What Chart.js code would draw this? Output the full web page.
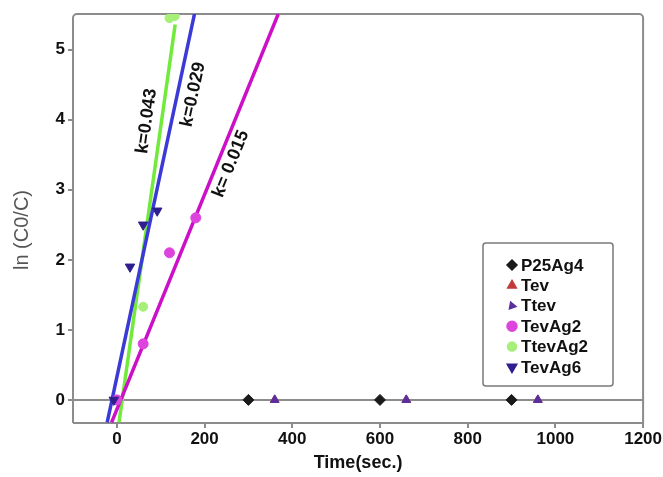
<!DOCTYPE html>
<html><head><meta charset="utf-8">
<script src="https://cdn.jsdelivr.net/npm/chart.js@4.4.1/dist/chart.umd.min.js"></script>
<style>html,body{margin:0;padding:0;background:#fff;}</style>
</head><body>
<canvas id="c" width="663" height="477"></canvas>
<script>
// ---- data ----
const xTicks = [0, 200, 400, 600, 800, 1000, 1200];
const yTicks = [0, 1, 2, 3, 4, 5];

const p25Ag4X = [300, 600, 900];
const p25Ag4Y = [0, 0, 0];
const tevX = [360, 660, 960];
const tevY = [0, 0, 0];
const ttevX = [360, 660, 960];
const ttevY = [0, 0, 0];
const tevAg2X = [0, 60, 120, 180];
const tevAg2Y = [0, 0.8, 2.1, 2.6];
const ttevAg2X = [0, 60, 120, 132];
const ttevAg2Y = [0, 1.33, 5.45, 5.48];
const tevAg6X = [-7, 30, 60, 92];
const tevAg6Y = [0, 1.9, 2.5, 2.7];

// fitted lines (end points)
const fitGreenX = [5, 133];
const fitGreenY = [-0.32, 5.36];
const fitBlueX = [-22, 177];
const fitBlueY = [-0.32, 5.51];
const fitMagentaX = [-12, 368];
const fitMagentaY = [-0.32, 5.51];

const fitLabels = ['k=0.043', 'k=0.029', 'k= 0.015'];
const fitLabelX = [68, 174, 260];
const fitLabelY = [3.98, 4.36, 3.37];

const yTitle = 'ln (C0/C)';
const xTitle = 'Time(sec.)';

const zip = (xs, ys) => xs.map((x, i) => ({x: x, y: ys[i]}));

const FONT = "'Liberation Sans', Arial, sans-serif";

function pts(label, xs, ys, color, style, radius, rotation, order) {
  return {label, data: zip(xs, ys), showLine: false, pointStyle: style,
    pointRadius: radius, pointRotation: rotation || 0, backgroundColor: color,
    borderColor: color, borderWidth: 1, order: order === undefined ? 1 : order, isPoint: true};
}
function fit(xs, ys, color) {
  return {label: '', data: zip(xs, ys), showLine: true, borderColor: color,
    borderWidth: 3.5, pointRadius: 0, fill: false, order: 10, isFit: true};
}

const datasets = [
  fit(fitMagentaX, fitMagentaY, '#cc10c8'),
  fit(fitBlueX, fitBlueY, '#3c3ad6'),
  fit(fitGreenX, fitGreenY, '#72ea3c'),
  pts('P25Ag4', p25Ag4X, p25Ag4Y, '#1a1a1a', 'rectRot', 5.5),
  pts('Tev', tevX, tevY, '#c23a3a', 'triangle', 5, 0, 5),
  pts('Ttev', ttevX, ttevY, '#5b2f9e', 'triangle', 5, 0, 2),
  pts('TevAg2', tevAg2X, tevAg2Y, '#dd44dd', 'circle', 5, 0, 3),
  pts('TtevAg2', ttevAg2X, ttevAg2Y, '#a6f07a', 'circle', 4.5, 0, 4),
  pts('TevAg6', tevAg6X, tevAg6Y, '#2e1f8f', 'triangle', 5.5, 180, 0)
];

const framePlugin = {
  id: 'frame',
  beforeDatasetsDraw(chart) {
    const {ctx, chartArea: a} = chart;
    ctx.save();
    ctx.strokeStyle = '#8c8c8c';
    ctx.lineWidth = 2;
    const r = 4;
    ctx.beginPath();
    ctx.moveTo(a.left, a.bottom);
    ctx.lineTo(a.left, a.top + r);
    ctx.arcTo(a.left, a.top, a.left + r, a.top, r);
    ctx.lineTo(a.right - r, a.top);
    ctx.arcTo(a.right, a.top, a.right, a.top + r, r);
    ctx.lineTo(a.right, a.bottom);
    ctx.lineTo(a.left, a.bottom);
    ctx.stroke();
    ctx.restore();
  }
};

const labelPlugin = {
  id: 'fitlabels',
  afterDatasetsDraw(chart) {
    const {ctx, scales: {x, y}} = chart;
    const fits = [datasets[2], datasets[1], datasets[0]];
    ctx.save();
    ctx.fillStyle = '#111';
    ctx.font = 'bold 18px ' + FONT;
    ctx.textAlign = 'center';
    ctx.textBaseline = 'middle';
    fitLabels.forEach((t, i) => {
      const d = fits[i].data;
      const px0 = x.getPixelForValue(d[0].x), py0 = y.getPixelForValue(d[0].y);
      const px1 = x.getPixelForValue(d[1].x), py1 = y.getPixelForValue(d[1].y);
      const ang = Math.atan2(py1 - py0, px1 - px0);
      ctx.save();
      ctx.translate(x.getPixelForValue(fitLabelX[i]), y.getPixelForValue(fitLabelY[i]));
      ctx.rotate(ang);
      ctx.fillText(t, 0, 0);
      ctx.restore();
    });
    // y axis title
    ctx.save();
    ctx.fillStyle = '#555';
    ctx.font = '20px ' + FONT;
    ctx.translate(22, 230);
    ctx.rotate(-Math.PI / 2);
    ctx.fillText(yTitle, 0, 0);
    ctx.restore();
    ctx.restore();
  }
};

const legendPlugin = {
  id: 'boxlegend',
  afterDraw(chart) {
    const {ctx} = chart;
    const bx = 483, by = 243, bw = 130, bh = 143;
    ctx.save();
    ctx.strokeStyle = '#7a7a7a';
    ctx.lineWidth = 1.5;
    ctx.beginPath();
    if (ctx.roundRect) ctx.roundRect(bx, by, bw, bh, 3); else ctx.rect(bx, by, bw, bh);
    ctx.stroke();
    const items = datasets.filter(d => d.isPoint);
    ctx.font = 'bold 17px ' + FONT;
    ctx.textBaseline = 'middle';
    ctx.textAlign = 'left';
    items.forEach((d, i) => {
      const yy = 265 + i * 20.4;
      ctx.fillStyle = d.backgroundColor;
      ctx.strokeStyle = d.borderColor;
      let rot = d.pointRotation;
      let rad = d.pointRadius;
      if (d.label === 'Ttev') { rot = 100; rad = 4; }
      if (d.label === 'P25Ag4') { rad = 5; }
      Chart.helpers.drawPoint(ctx, {pointStyle: d.pointStyle, radius: rad, rotation: rot, borderWidth: 1}, 512, yy);
      ctx.fillStyle = '#111';
      ctx.fillText(d.label, 521, yy + 1);
    });
    ctx.restore();
  }
};

new Chart(document.getElementById('c'), {
  type: 'scatter',
  data: {datasets},
  options: {
    responsive: false,
    animation: false,
    layout: {padding: {left: 0, top: 14, right: 19, bottom: 0}},
    plugins: {legend: {display: false}, tooltip: {enabled: false}},
    scales: {
      x: {
        type: 'linear', min: -100, max: 1200,
        afterBuildTicks: s => { s.ticks = xTicks.map(v => ({value: v})); },
        afterFit: s => { s.height = 54; },
        ticks: {font: {family: FONT, weight: 'bold', size: 17}, color: '#111', padding: 1, maxRotation: 0,
          callback: v => String(v)},
        grid: {drawOnChartArea: false, drawTicks: true, tickLength: 5, color: '#8c8c8c', lineWidth: 2},
        border: {display: false},
        title: {display: true, text: xTitle, font: {family: FONT, weight: 'bold', size: 18}, color: '#111', padding: {top: 0, bottom: 3}}
      },
      y: {
        type: 'linear', min: -0.33, max: 5.51,
        afterBuildTicks: s => { s.ticks = yTicks.map(v => ({value: v})); },
        afterFit: s => { s.width = 73; },
        ticks: {font: {family: FONT, weight: 'bold', size: 17}, color: '#111', padding: 3,
          callback: v => String(v)},
        grid: {drawOnChartArea: true, drawTicks: true, tickLength: 5,
          color: c => (c.tick && c.tick.value === 0) ? '#8c8c8c' : 'rgba(0,0,0,0)',
          tickColor: '#8c8c8c', lineWidth: 2},
        border: {display: false},
        title: {display: false}
      }
    }
  },
  plugins: [framePlugin, labelPlugin, legendPlugin]
});
</script>
</body></html>
